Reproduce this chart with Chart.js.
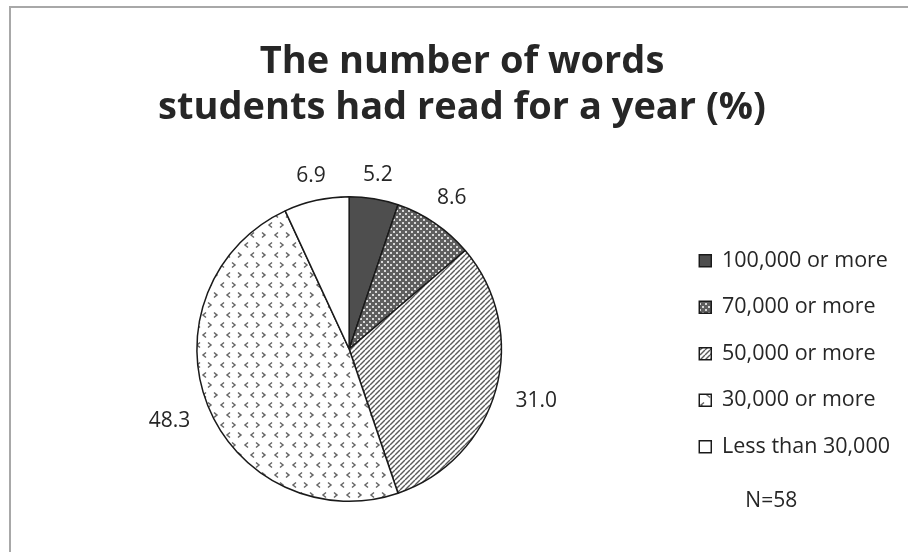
<!DOCTYPE html>
<html>
<head>
<meta charset="utf-8">
<script src="https://cdn.jsdelivr.net/npm/chart.js@4/dist/chart.umd.min.js"></script>
<style>
  html, body { margin: 0; padding: 0; background: #fff; }
  #wrap { position: relative; width: 908px; height: 552px; }
  #frame { position: absolute; left: 9px; top: 6px; right: -4px; bottom: -4px;
           border-left: 2px solid #a8a8a8; border-top: 2px solid #a8a8a8; pointer-events: none; }
</style>
</head>
<body>
<div id="wrap">
  <canvas id="pieChart"></canvas>
  <div id="frame"></div>
</div>
<script>
// Reading volume categories and share of students (%)
const categories = ['100,000 or more', '70,000 or more', '50,000 or more', '30,000 or more', 'Less than 30,000'];
const shares = [5.2, 8.6, 31.0, 48.3, 6.9];
const valueLabels = ['5.2', '8.6', '31.0', '48.3', '6.9'];
const titleLines = ['The number of words', 'students had read for a year (%)'];
const sampleNote = 'N=58';

const FONT = '"Open Sans", Lato, sans-serif';

// Build the black & white fill patterns used in the printed chart
function makePattern(w, h, drawFn) {
  const c = document.createElement('canvas');
  c.width = w; c.height = h;
  const g = c.getContext('2d');
  drawFn(g, w, h);
  return g.createPattern(c, 'repeat');
}

const fills = [
  '#4e4e4e',
  makePattern(6, 6, (g, w, h) => {
    g.fillStyle = '#5e5e5e';
    g.fillRect(0, 0, w, h);
    g.fillStyle = '#d8d8d8';
    g.fillRect(0, 0, 2, 2);
    g.fillRect(3, 3, 2, 2);
  }),
  makePattern(5, 5, (g, w, h) => {
    g.fillStyle = '#fff';
    g.fillRect(0, 0, w, h);
    g.strokeStyle = '#5a5a5a';
    g.lineWidth = 1.4;
    for (let k = -1; k <= 1; k++) {
      g.beginPath();
      g.moveTo(k * w, h);
      g.lineTo(k * w + w, 0);
      g.stroke();
    }
  }),
  makePattern(24, 20, (g, w, h) => {
    g.fillStyle = '#fff';
    g.fillRect(0, 0, w, h);
    g.strokeStyle = '#666';
    g.lineWidth = 1.5;
    function chevron(x, y, dir) {
      g.beginPath();
      g.moveTo(x + 2 * dir, y - 2.5);
      g.lineTo(x - 1 * dir, y);
      g.lineTo(x + 2 * dir, y + 2.5);
      g.stroke();
    }
    chevron(6, 5, 1);
    chevron(18, 5, -1);
    chevron(0, 15, -1);
    chevron(24, 15, -1);
    chevron(12, 15, 1);
  }),
  '#ffffff'
];

// Value labels placed just outside each slice
const sliceLabels = {
  id: 'sliceLabels',
  afterDatasetsDraw(chart) {
    const ctx = chart.ctx;
    const meta = chart.getDatasetMeta(0);
    ctx.save();
    ctx.font = '21px ' + FONT;
    ctx.fillStyle = '#262626';
    ctx.textAlign = 'center';
    ctx.textBaseline = 'middle';
    meta.data.forEach((arc, i) => {
      const p = arc.getProps(['x', 'y', 'startAngle', 'endAngle', 'outerRadius'], true);
      const mid = (p.startAngle + p.endAngle) / 2;
      const half = ctx.measureText(valueLabels[i]).width / 2;
      const r = p.outerRadius + 22 + half * Math.abs(Math.cos(mid));
      ctx.fillText(valueLabels[i], p.x + Math.cos(mid) * r, p.y + Math.sin(mid) * r);
    });
    ctx.restore();
  }
};

// Sample size note under the legend
const sampleNotePlugin = {
  id: 'sampleNote',
  afterDraw(chart) {
    const boxes = chart.legend && chart.legend.legendHitBoxes;
    if (!boxes || !boxes.length) return;
    const last = boxes[boxes.length - 1];
    const ctx = chart.ctx;
    ctx.save();
    ctx.font = '21px ' + FONT;
    ctx.fillStyle = '#262626';
    ctx.textAlign = 'center';
    ctx.textBaseline = 'middle';
    ctx.fillText(sampleNote, last.left + 72, last.top + last.height / 2 + 54);
    ctx.restore();
  }
};

new Chart(document.getElementById('pieChart'), {
  type: 'pie',
  data: {
    labels: categories,
    datasets: [{
      data: shares,
      backgroundColor: fills,
      borderColor: '#1a1a1a',
      borderWidth: 1.5,
      hoverOffset: 0
    }]
  },
  options: {
    responsive: true,
    maintainAspectRatio: false,
    animation: false,
    layout: { padding: { left: 24, right: 8, top: 0, bottom: 50 } },
    plugins: {
      title: {
        display: true,
        text: titleLines,
        color: '#262626',
        font: { family: FONT, size: 38, weight: 'bold', lineHeight: '46px' },
        padding: { top: 39, bottom: 65 }
      },
      legend: {
        position: 'right',
        fullSize: false,
        // empty title only nudges the item column down a little
        title: { display: true, text: '', padding: 0, font: { size: 8 } },
        labels: {
          boxWidth: 12,
          boxHeight: 12,
          padding: 25,
          color: '#262626',
          font: { family: FONT, size: 21.5 }
        }
      },
      tooltip: { enabled: false }
    }
  },
  plugins: [sliceLabels, sampleNotePlugin]
});
</script>
</body>
</html>
